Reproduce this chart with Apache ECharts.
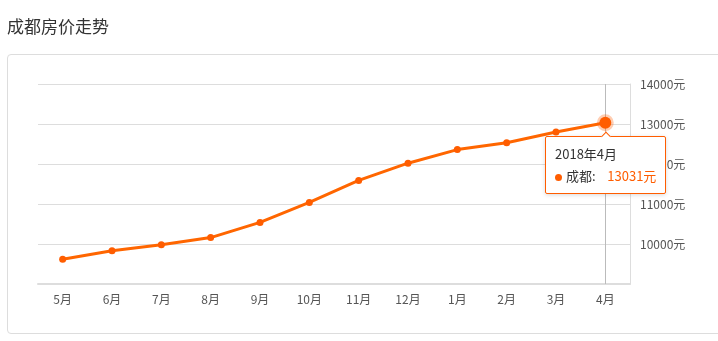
<!DOCTYPE html>
<html>
<head>
<meta charset="utf-8">
<script src="https://cdn.jsdelivr.net/npm/echarts@6/dist/echarts.min.js"></script>
<style>
  html, body { margin: 0; padding: 0; background: #fff; }
  #wrap { position: relative; width: 718px; height: 341px; overflow: hidden; }
  #box { position: absolute; left: 7px; top: 54px; width: 730px; height: 280px; border: 1px solid #ddd; border-radius: 4px; box-sizing: border-box; }
  #chart { position: absolute; left: 0; top: 0; width: 718px; height: 341px; }
</style>
</head>
<body>
<div id="wrap">
  <div id="box"></div>
  <div id="chart"></div>
</div>
<script>
const titleText = '成都房价走势';
const seriesName = '成都';
const categories = ['5月', '6月', '7月', '8月', '9月', '10月', '11月', '12月', '1月', '2月', '3月', '4月'];
const years = ['2017', '2017', '2017', '2017', '2017', '2017', '2017', '2017', '2018', '2018', '2018', '2018'];
const prices = [9620, 9830, 9980, 10160, 10540, 11040, 11590, 12020, 12360, 12530, 12800, 13031];
const yMin = 9000, yMax = 14000, yStep = 1000;

const orange = '#ff5d00';
const chart = echarts.init(document.getElementById('chart'), null, { renderer: 'canvas' });
const font = '"Noto Sans CJK SC", "Noto Sans", sans-serif';

chart.setOption({
  animation: false,
  textStyle: { fontFamily: font },
  title: {
    text: titleText,
    left: 2,
    top: 13,
    textStyle: { fontSize: 17, fontWeight: 'normal', color: '#333', fontFamily: font }
  },
  grid: { left: 38, right: 88, top: 84, bottom: 57 },
  tooltip: {
    trigger: 'item',
    position: 'bottom',
    backgroundColor: '#fff',
    borderColor: orange,
    borderWidth: 1,
    padding: [6, 9],
    textStyle: { color: '#333', fontSize: 13, fontFamily: font },
    extraCssText: 'box-shadow: 0 1px 4px rgba(0,0,0,0.15); border-radius: 2px;',
    formatter: function (p) {
      const i = p.dataIndex;
      return '<div style="line-height:22px">' + years[i] + '年' + categories[i] + '<br/>' +
        '<span style="display:inline-block;width:7px;height:7px;border-radius:50%;background:' + orange + ';margin-right:4px;vertical-align:middle"></span>' +
        p.seriesName + ':&nbsp;&nbsp;&nbsp;&nbsp;<span style="color:' + orange + '">' + p.value + '元</span></div>';
    }
  },
  xAxis: {
    type: 'category',
    data: categories,
    boundaryGap: true,
    axisLine: { lineStyle: { color: '#ddd', width: 2 } },
    axisTick: { alignWithLabel: true, length: 4, lineStyle: { color: '#ddd' } },
    axisLabel: { color: '#555', fontSize: 12, margin: 9, fontFamily: font },
    axisPointer: {
      show: true,
      value: categories[categories.length - 1],
      status: 'show',
      type: 'line',
      z: 1,
      triggerTooltip: false,
      label: { show: false },
      lineStyle: { color: '#bbb', width: 1, type: 'solid' }
    }
  },
  yAxis: {
    type: 'value',
    position: 'right',
    min: yMin,
    max: yMax,
    interval: yStep,
    axisLine: { show: true, lineStyle: { color: '#ddd', width: 1 } },
    axisTick: { show: false },
    axisLabel: {
      showMinLabel: false,
      formatter: function (v) { return v + '元'; },
      color: '#555', fontSize: 12, margin: 10, fontFamily: font
    },
    splitLine: { lineStyle: { color: '#ddd', width: 1 } }
  },
  series: [{
    name: seriesName,
    type: 'line',
    z: 5,
    data: prices,
    symbol: 'circle',
    symbolSize: 7,
    lineStyle: { color: orange, width: 3 },
    itemStyle: { color: orange },
    emphasis: {
      scale: 1.7,
      itemStyle: { color: orange, borderColor: 'rgba(255,93,0,0.3)', borderWidth: 5 }
    }
  }]
});

const last = prices.length - 1;
chart.dispatchAction({ type: 'highlight', seriesIndex: 0, dataIndex: last });
chart.dispatchAction({ type: 'showTip', seriesIndex: 0, dataIndex: last });
</script>
</body>
</html>
